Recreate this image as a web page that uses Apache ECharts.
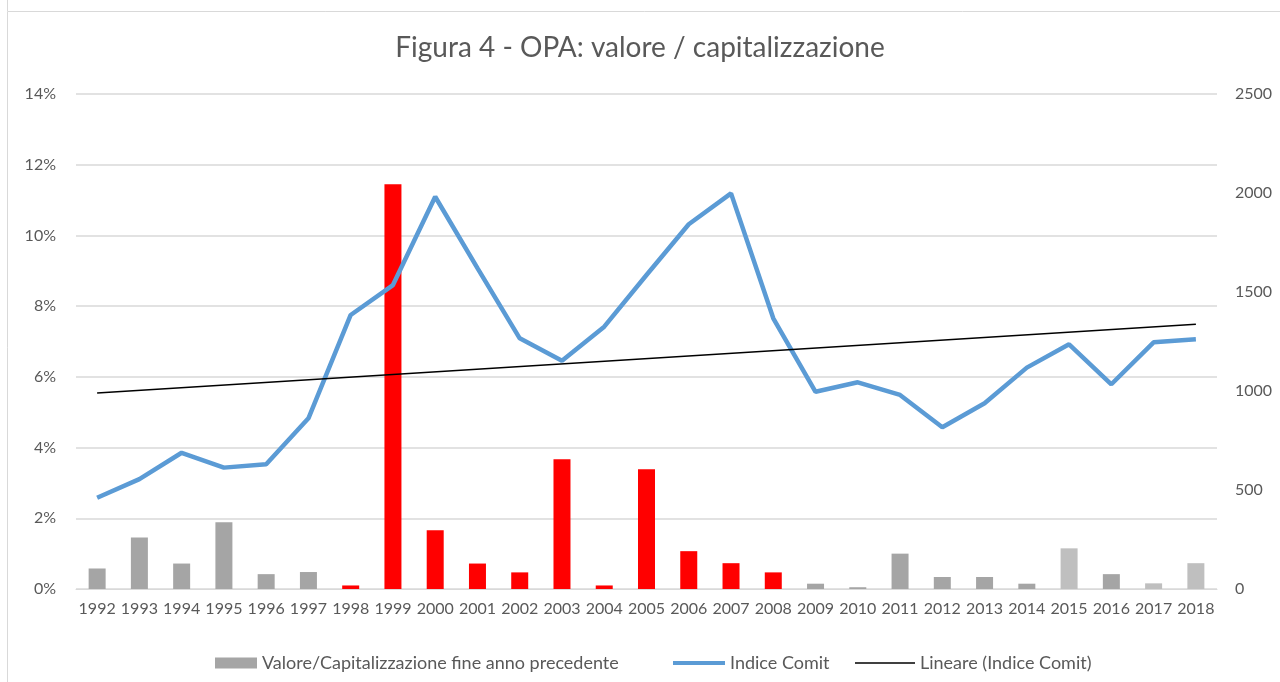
<!DOCTYPE html>
<html>
<head>
<meta charset="utf-8">
<script src="https://cdn.jsdelivr.net/npm/echarts@6/dist/echarts.min.js"></script>
<style>
    html, body { margin: 0; padding: 0; background: #fff; }
    #chart { width: 1280px; height: 682px; }
</style>
</head>
<body>
<div id="chart"></div>
<script>
    // dati
    var anni = ['1992', '1993', '1994', '1995', '1996', '1997', '1998', '1999', '2000', '2001',
        '2002', '2003', '2004', '2005', '2006', '2007', '2008', '2009', '2010', '2011',
        '2012', '2013', '2014', '2015', '2016', '2017', '2018'];
    // valore / capitalizzazione fine anno precedente, in %
    var valoreCap = [0.58, 1.46, 0.72, 1.89, 0.42, 0.48, 0.10, 11.45, 1.66, 0.72,
        0.47, 3.67, 0.10, 3.39, 1.07, 0.73, 0.47, 0.15, 0.05, 1.00,
        0.34, 0.34, 0.15, 1.15, 0.42, 0.16, 0.73];
    // gruppo colore di ogni barra: g = grigio, r = rosso, c = grigio chiaro
    var gruppoBarre = ['g', 'g', 'g', 'g', 'g', 'g', 'r', 'r', 'r', 'r',
        'r', 'r', 'r', 'r', 'r', 'r', 'r', 'g', 'g', 'g',
        'g', 'g', 'g', 'c', 'g', 'c', 'c'];
    var indiceComit = [461, 555, 688, 613, 630, 862, 1384, 1535, 1981, 1621,
        1266, 1153, 1325, 1586, 1842, 1998, 1367, 996, 1044, 980,
        817, 938, 1118, 1236, 1034, 1246, 1261];
    // estremi della retta di tendenza (solo primo e ultimo anno)
    var lineare = [990, null, null, null, null, null, null, null, null, null,
        null, null, null, null, null, null, null, null, null, null,
        null, null, null, null, null, null, 1337];

    var colori = {g: '#a5a5a5', r: '#ff0000', c: '#bfbfbf'};
    var testo = '#595959';
    var font = 'Lato';

    var chart = echarts.init(document.getElementById('chart'));

    var barData = valoreCap.map(function (v, i) {
        return {value: v, itemStyle: {color: colori[gruppoBarre[i]]}};
    });

    var option = {
        backgroundColor: '#fff',
        animation: false,
        textStyle: {fontFamily: font, color: testo},
        title: {
            text: 'Figura 4 - OPA: valore / capitalizzazione',
            left: 'center',
            top: 29,
            textStyle: {fontFamily: font, fontSize: 28, fontWeight: 'normal', color: testo}
        },
        graphic: [
            {type: 'rect', shape: {x: 7.5, y: 11.5, width: 1300, height: 700}, style: {fill: null, stroke: '#d9d9d9', lineWidth: 1}, silent: true},
            {type: 'line', shape: {x1: 7.5, y1: 0, x2: 7.5, y2: 11}, style: {stroke: '#d9d9d9', lineWidth: 1}, silent: true}
        ],
        legend: [
            {
                data: ['Valore/Capitalizzazione fine anno precedente'],
                left: 210, top: 649,
                icon: 'rect',
                itemWidth: 42, itemHeight: 11,
                textStyle: {fontFamily: font, fontSize: 18, color: testo}
            },
            {
                data: ['Indice Comit'],
                left: 668, top: 649,
                icon: 'rect',
                itemWidth: 52, itemHeight: 4,
                textStyle: {fontFamily: font, fontSize: 18, color: testo}
            },
            {
                data: ['Lineare (Indice Comit)'],
                left: 850, top: 649,
                icon: 'rect',
                itemWidth: 60, itemHeight: 1.5,
                textStyle: {fontFamily: font, fontSize: 18, color: testo}
            }
        ],
        grid: {left: 76, right: 63, top: 94, bottom: 93, containLabel: false},
        xAxis: {
            type: 'category',
            data: anni,
            axisTick: {show: false},
            axisLine: {show: true, lineStyle: {color: '#d9d9d9', width: 1}},
            axisLabel: {interval: 0, color: testo, fontFamily: font, fontSize: 16, margin: 12}
        },
        yAxis: [
            {
                type: 'value',
                min: 0, max: 14, interval: 2,
                axisLine: {show: false},
                axisTick: {show: false},
                axisLabel: {formatter: '{value}%', color: testo, fontFamily: font, fontSize: 16, margin: 20},
                splitLine: {lineStyle: {color: '#d9d9d9', width: 1.5}}
            },
            {
                type: 'value',
                min: 0, max: 2500, interval: 500,
                axisLine: {show: false},
                axisTick: {show: false},
                axisLabel: {
                    formatter: function (v) { return String(v); },
                    color: testo, fontFamily: font, fontSize: 16, margin: 18
                },
                splitLine: {show: false}
            }
        ],
        series: [
            {
                name: 'Valore/Capitalizzazione fine anno precedente',
                type: 'bar',
                yAxisIndex: 0,
                barWidth: 17,
                itemStyle: {color: '#a5a5a5'},
                data: barData
            },
            {
                name: 'Indice Comit',
                type: 'line',
                yAxisIndex: 1,
                symbol: 'none',
                lineStyle: {color: '#5b9bd5', width: 4.5},
                itemStyle: {color: '#5b9bd5'},
                data: indiceComit
            },
            {
                name: 'Lineare (Indice Comit)',
                type: 'line',
                yAxisIndex: 1,
                symbol: 'none',
                connectNulls: true,
                lineStyle: {color: '#000', width: 1.5},
                itemStyle: {color: '#000'},
                data: lineare
            }
        ]
    };

    chart.setOption(option);
</script>
</body>
</html>
